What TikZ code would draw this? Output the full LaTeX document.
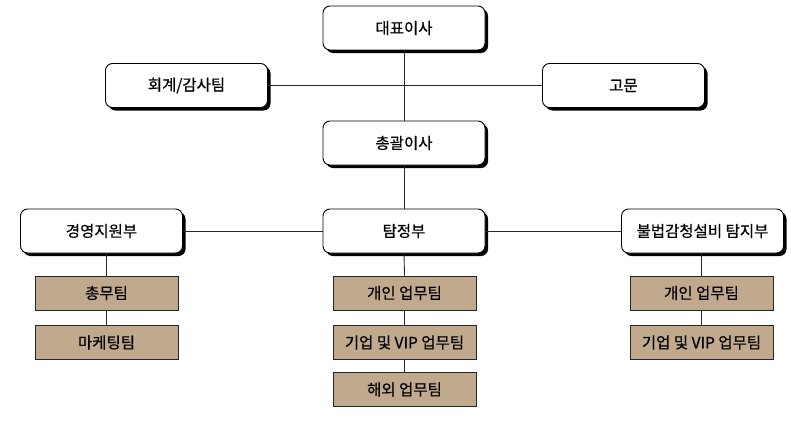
\documentclass[tikz,border=0pt]{standalone}
\usepackage{fontspec}
\setmainfont{Noto Sans CJK KR}[UprightFeatures={FakeBold=0.6}]
\definecolor{teambrown}{RGB}{192,169,141}
\definecolor{lineclr}{RGB}{40,40,40}
\begin{document}
\begin{tikzpicture}[x=1pt,y=-1pt,
  rbox/.style={draw=black, line width=0.9pt, fill=white, rounded corners=7pt,
    minimum width=162pt, minimum height=44pt, inner sep=0pt, font=\fontsize{15.5}{18}\selectfont},
  shadowbox/.style={fill=black, rounded corners=7pt, minimum width=162pt, minimum height=44pt, inner sep=0pt},
  tbox/.style={draw=black!85, line width=0.8pt, fill=teambrown, minimum width=143pt, minimum height=34pt,
    inner sep=0pt, font=\fontsize{15.5}{18}\selectfont},
  conn/.style={draw=lineclr, line width=0.9pt}]
\useasboundingbox (0,0) rectangle (791,420);
% shadows
\foreach \cx/\cy in {404/28, 186.5/85.5, 623.5/85.5, 404/143, 101.5/231, 404/231, 702.5/231}{
  \node[shadowbox] at (\cx+3,\cy+3) {};
}
\node[rbox] (ceo) at (404,28) {대표이사};
\node[rbox] (acc) at (186.5,85.5) {회계/감사팀};
\node[rbox] (adv) at (623.5,85.5) {고문};
\node[rbox] (gm) at (404,143) {총괄이사};
\node[rbox] (mgmt) at (101.5,231) {경영지원부};
\node[rbox] (det) at (404,231) {탐정부};
\node[rbox] (bug) at (702.5,231) {불법감청설비 탐지부};
\node[tbox] (l1) at (106.5,293) {총무팀};
\node[tbox] (l2) at (106.5,342.5) {마케팅팀};
\node[tbox] (c1) at (404.5,293) {개인 업무팀};
\node[tbox] (c2) at (404.5,342.5) {기업 및 VIP 업무팀};
\node[tbox] (c3) at (404.5,389.5) {해외 업무팀};
\node[tbox] (r1) at (701.5,293) {개인 업무팀};
\node[tbox] (r2) at (701.5,342.5) {기업 및 VIP 업무팀};
\path[conn] (ceo.south) -- (gm.north);
\path[conn] (acc.east) -- (adv.west);
\path[conn] (gm.south) -- (det.north);
\path[conn] (mgmt.east) -- (det.west);
\path[conn] (det.east) -- (bug.west);
\path[conn] (mgmt.south -| l1.north) -- (l1.north);
\path[conn] (l1.south) -- (l2.north);
\path[conn] (det.south) -- (c1.north);
\path[conn] (c1.south) -- (c2.north);
\path[conn] (c2.south) -- (c3.north);
\path[conn] (bug.south -| r1.north) -- (r1.north);
\path[conn] (r1.south) -- (r2.north);
\end{tikzpicture}
\end{document}
